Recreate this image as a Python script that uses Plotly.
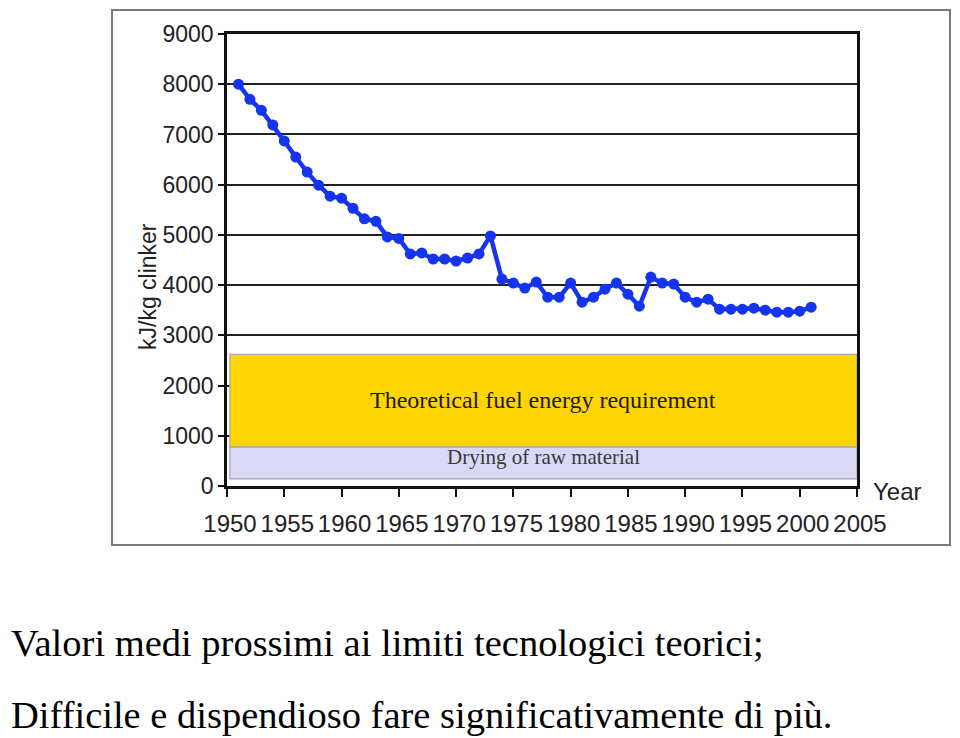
import plotly.graph_objects as go

years = list(range(1951, 2002))
energy = [8000, 7700, 7480, 7190, 6870, 6550, 6250, 5990, 5770, 5730,
          5530, 5320, 5270, 4960, 4930, 4620, 4640, 4520, 4520, 4480,
          4540, 4620, 4980, 4120, 4040, 3940, 4060, 3760, 3760, 4040,
          3660, 3760, 3920, 4040, 3820, 3580, 4160, 4040, 4020, 3760,
          3660, 3720, 3520, 3520, 3520, 3540, 3500, 3460, 3460, 3480, 3560]

theoretical_band = (780, 2620)
drying_band = (140, 780)
x_ticks = list(range(1950, 2006, 5))
y_ticks = list(range(0, 9001, 1000))

OFF = 8  # page body margin
W, H = 960 - OFF, 738 - OFF
L, T = 227 - OFF, 34 - OFF
R = W - (857 - OFF)
B = H - (486 - OFF)
pw, ph = W - L - R, H - T - B


def px(xp):
    return (xp - OFF - L) / pw


def py(yp):
    return (H - B - (yp - OFF)) / ph


fig = go.Figure()
fig.add_trace(go.Scatter(
    x=years, y=energy, mode="lines+markers",
    line=dict(color="#1434F0", width=4.5),
    marker=dict(color="#1434F0", size=11),
    showlegend=False, hoverinfo="skip"))

fig.add_shape(type="rect", xref="x", yref="y", x0=1950.25, x1=2005,
              y0=drying_band[0], y1=drying_band[1],
              fillcolor="#D9D9F7", line=dict(color="#A8A8A8", width=1.2), layer="between")
fig.add_shape(type="rect", xref="x", yref="y", x0=1950.25, x1=2005,
              y0=theoretical_band[0], y1=theoretical_band[1],
              fillcolor="#FFD400", line=dict(color="#A8A8A8", width=1.2), layer="between")

# outer frame
fig.add_shape(type="rect", xref="paper", yref="paper",
              x0=px(112), x1=px(950), y0=py(545), y1=py(10),
              line=dict(color="#7A7A7A", width=2), fillcolor="rgba(0,0,0,0)", layer="below")

fig.add_annotation(x=(1950.25 + 2005) / 2, y=(theoretical_band[0] + theoretical_band[1]) / 2 + 20,
                   xref="x", yref="y", text="Theoretical fuel energy requirement",
                   showarrow=False, font=dict(family="Liberation Serif", size=24, color="#1a1a1a"))
fig.add_annotation(x=(1950.25 + 2005) / 2, y=(drying_band[0] + drying_band[1]) / 2 + 120,
                   xref="x", yref="y", text="Drying of raw material",
                   showarrow=False, font=dict(family="Liberation Serif", size=21, color="#3a3a3a"))

fig.add_annotation(x=px(871), y=py(491), xref="paper", yref="paper", text="Year",
                   xanchor="left", yanchor="middle", showarrow=False,
                   font=dict(family="Liberation Sans", size=24, color="#222"))
fig.add_annotation(x=px(148), y=py(287), xref="paper", yref="paper", text="kJ/kg clinker",
                   textangle=-90, xanchor="center", yanchor="middle", showarrow=False,
                   font=dict(family="Liberation Sans", size=23, color="#222"))

fig.add_annotation(x=px(9), y=py(643), xref="paper", yref="paper",
                   text="Valori medi prossimi ai limiti tecnologici teorici;",
                   xanchor="left", yanchor="middle", showarrow=False,
                   font=dict(family="Liberation Serif", size=38.5, color="black"))
fig.add_annotation(x=px(9), y=py(715), xref="paper", yref="paper",
                   text="Difficile e dispendioso fare significativamente di più.",
                   xanchor="left", yanchor="middle", showarrow=False,
                   font=dict(family="Liberation Serif", size=38.5, color="black"))

fig.update_xaxes(range=[1950, 2005], tickvals=x_ticks, ticktext=[str(t) for t in x_ticks],
                 showgrid=False, zeroline=False, showline=True, linecolor="#111",
                 linewidth=2.5, mirror=True, ticks="outside", ticklen=8, tickwidth=2,
                 tickcolor="#111", ticklabelstandoff=6, ticklabelshift=3,
                 tickfont=dict(family="Liberation Sans", size=24, color="#222"))
fig.update_yaxes(range=[0, 9000], tickvals=y_ticks, showgrid=True, gridcolor="#222",
                 gridwidth=1.5, zeroline=False, showline=True, linecolor="#111",
                 linewidth=2.5, mirror=True, ticks="outside", ticklen=6, tickwidth=2,
                 tickcolor="#111", ticklabelstandoff=0,
                 tickfont=dict(family="Liberation Sans", size=23, color="#222"))

fig.update_layout(width=W, height=H, margin=dict(l=L, r=R, t=T, b=B),
                  paper_bgcolor="white", plot_bgcolor="white")

fig.write_html("out.html")
